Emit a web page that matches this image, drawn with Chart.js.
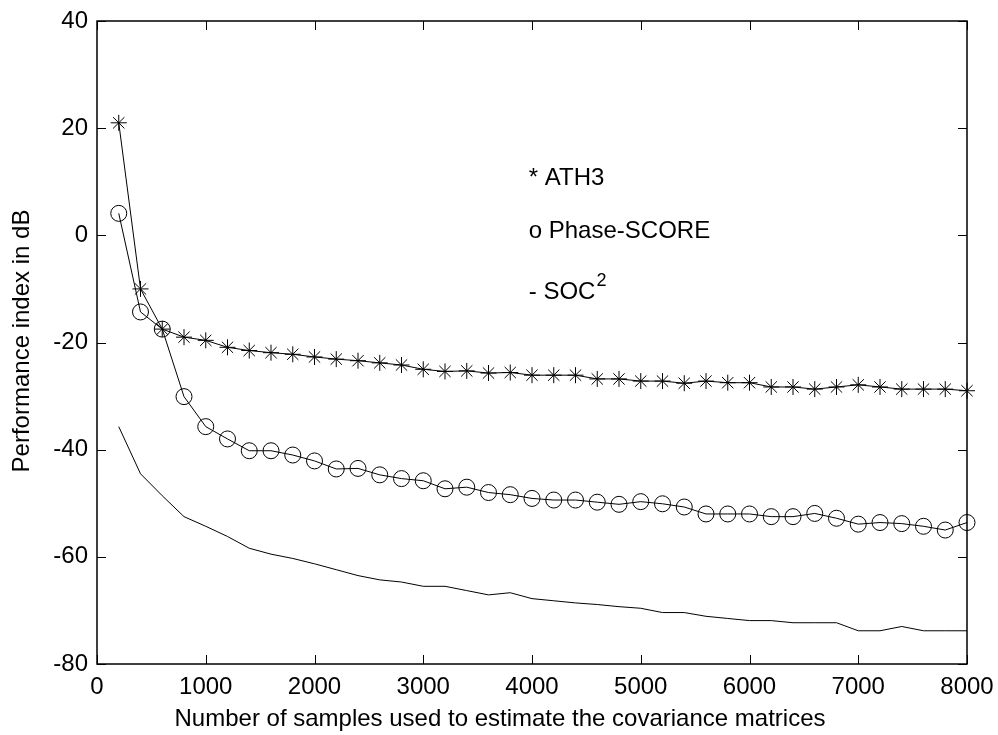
<!DOCTYPE html>
<html>
<head>
<meta charset="utf-8">
<script src="https://cdn.jsdelivr.net/npm/chart.js@4"></script>
<style>
  html, body { margin: 0; padding: 0; background: #fff; }
  #wrap { width: 998px; height: 735px; }
</style>
</head>
<body>
<div id="wrap"><canvas id="perfChart" width="998" height="735"></canvas></div>
<script>
  // sample counts on x
  const samples = [200, 400, 600, 800, 1000, 1200, 1400, 1600, 1800, 2000,
    2200, 2400, 2600, 2800, 3000, 3200, 3400, 3600, 3800, 4000,
    4200, 4400, 4600, 4800, 5000, 5200, 5400, 5600, 5800, 6000,
    6200, 6400, 6600, 6800, 7000, 7200, 7400, 7600, 7800, 8000];

  const ath3 = [21, -10, -17.5, -19, -19.6, -20.9, -21.5, -21.9, -22.2, -22.7,
    -23.1, -23.4, -23.8, -24.2, -25, -25.4, -25.3, -25.7, -25.6, -26.1,
    -26.1, -26.1, -26.8, -26.8, -27.2, -27.2, -27.6, -27.2, -27.5, -27.5,
    -28.3, -28.3, -28.7, -28.3, -27.9, -28.3, -28.7, -28.7, -28.7, -29];

  const phaseScore = [4.1, -14.3, -17.5, -30.1, -35.7, -38, -40.2, -40.2, -41, -42.1,
    -43.6, -43.5, -44.7, -45.4, -45.8, -47.3, -47, -48, -48.4, -49.1,
    -49.4, -49.4, -49.8, -50.2, -49.7, -50.1, -50.7, -52, -52, -52,
    -52.5, -52.5, -51.9, -52.8, -53.9, -53.6, -53.8, -54.3, -55, -53.6];

  const soc2 = [-35.7, -44.5, -48.6, -52.5, -54.3, -56.2, -58.4, -59.5, -60.3, -61.3,
    -62.4, -63.5, -64.3, -64.7, -65.5, -65.5, -66.3, -67.1, -66.7, -67.8,
    -68.2, -68.6, -68.9, -69.3, -69.6, -70.4, -70.4, -71.1, -71.5, -71.9,
    -71.9, -72.3, -72.3, -72.3, -73.8, -73.8, -73.0, -73.8, -73.8, -73.8];

  const xTicks = [0, 1000, 2000, 3000, 4000, 5000, 6000, 7000, 8000];
  const yTicks = [-80, -60, -40, -20, 0, 20, 40];

  const xTitle = 'Number of samples used to estimate the covariance matrices';
  const yTitle = 'Performance index in dB';

  const FONT = 'Liberation Sans, Arial, sans-serif';
  const FS = 24;

  function pts(arr) {
    return samples.map((s, i) => ({ x: s, y: arr[i] }));
  }

  // box + inward ticks + titles + text annotations, matlab style
  const matlabAxes = {
    id: 'matlabAxes',
    afterDraw(chart) {
      const { ctx, chartArea: a, scales } = chart;
      const len = 9;
      ctx.save();
      ctx.strokeStyle = '#000';
      ctx.lineWidth = 1;
      ctx.beginPath();
      xTicks.forEach(v => {
        const px = Math.round(scales.x.getPixelForValue(v)) + 0.5;
        ctx.moveTo(px, a.bottom); ctx.lineTo(px, a.bottom - len);
        ctx.moveTo(px, a.top); ctx.lineTo(px, a.top + len);
      });
      yTicks.forEach(v => {
        const py = Math.round(scales.y.getPixelForValue(v)) + 0.5;
        ctx.moveTo(a.left, py); ctx.lineTo(a.left + len, py);
        ctx.moveTo(a.right, py); ctx.lineTo(a.right - len, py);
      });
      ctx.stroke();
      ctx.lineWidth = 1.5;
      ctx.strokeRect(a.left, a.top, a.right - a.left, a.bottom - a.top);

      ctx.fillStyle = '#000';
      ctx.font = FS + 'px ' + FONT;
      ctx.textBaseline = 'middle';

      // axis titles
      ctx.textAlign = 'center';
      ctx.fillText(xTitle, 500, 719);
      ctx.save();
      ctx.translate(22, 341);
      ctx.rotate(-Math.PI / 2);
      ctx.fillText(yTitle, 0, 0);
      ctx.restore();

      // text labels inside the axes
      ctx.textAlign = 'left';
      const tx = scales.x.getPixelForValue(3970);
      ctx.fillText('* ATH3', tx, scales.y.getPixelForValue(10.7));
      ctx.fillText('o Phase-SCORE', tx, scales.y.getPixelForValue(0.7));
      const y3 = scales.y.getPixelForValue(-10.6);
      ctx.fillText('- SOC', tx, y3);
      const w = ctx.measureText('- SOC').width;
      ctx.font = '18px ' + FONT;
      ctx.fillText('2', tx + w + 1, y3 - 11);
      ctx.restore();
    }
  };

  new Chart(document.getElementById('perfChart'), {
    type: 'scatter',
    data: {
      datasets: [
        {
          label: 'ATH3',
          data: pts(ath3),
          showLine: true,
          borderColor: '#000',
          borderWidth: 1,
          pointStyle: 'star',
          pointRadius: 8,
          pointBorderColor: '#000',
          pointBorderWidth: 1,
          pointBackgroundColor: 'transparent',
          clip: false
        },
        {
          label: 'Phase-SCORE',
          data: pts(phaseScore),
          showLine: true,
          borderColor: '#000',
          borderWidth: 1,
          pointStyle: 'circle',
          pointRadius: 8,
          pointBorderColor: '#000',
          pointBorderWidth: 1,
          pointBackgroundColor: 'transparent',
          clip: false
        },
        {
          label: 'SOC2',
          data: pts(soc2),
          showLine: true,
          borderColor: '#000',
          borderWidth: 1,
          pointRadius: 0
        }
      ]
    },
    options: {
      responsive: false,
      animation: false,
      devicePixelRatio: 1,
      layout: { padding: { top: 21, right: 31, left: 0, bottom: 0 } },
      plugins: {
        legend: { display: false },
        tooltip: { enabled: false }
      },
      scales: {
        x: {
          type: 'linear',
          min: 0,
          max: 8000,
          afterBuildTicks: s => { s.ticks = xTicks.map(v => ({ value: v })); },
          afterFit: s => { s.height = 71; s.paddingLeft = 0; s.paddingRight = 0; },
          grid: { display: false, drawTicks: false },
          border: { display: false },
          ticks: {
            color: '#000',
            font: { family: FONT, size: FS },
            padding: 9,
            maxRotation: 0,
            callback: v => String(v)
          }
        },
        y: {
          min: -80,
          max: 40,
          afterBuildTicks: s => { s.ticks = yTicks.map(v => ({ value: v })); },
          afterFit: s => { s.width = 97; s.paddingTop = 0; s.paddingBottom = 0; },
          grid: { display: false, drawTicks: false },
          border: { display: false },
          ticks: {
            color: '#000',
            font: { family: FONT, size: FS },
            padding: 9,
            callback: v => String(v)
          }
        }
      }
    },
    plugins: [matlabAxes]
  });
</script>
</body>
</html>
